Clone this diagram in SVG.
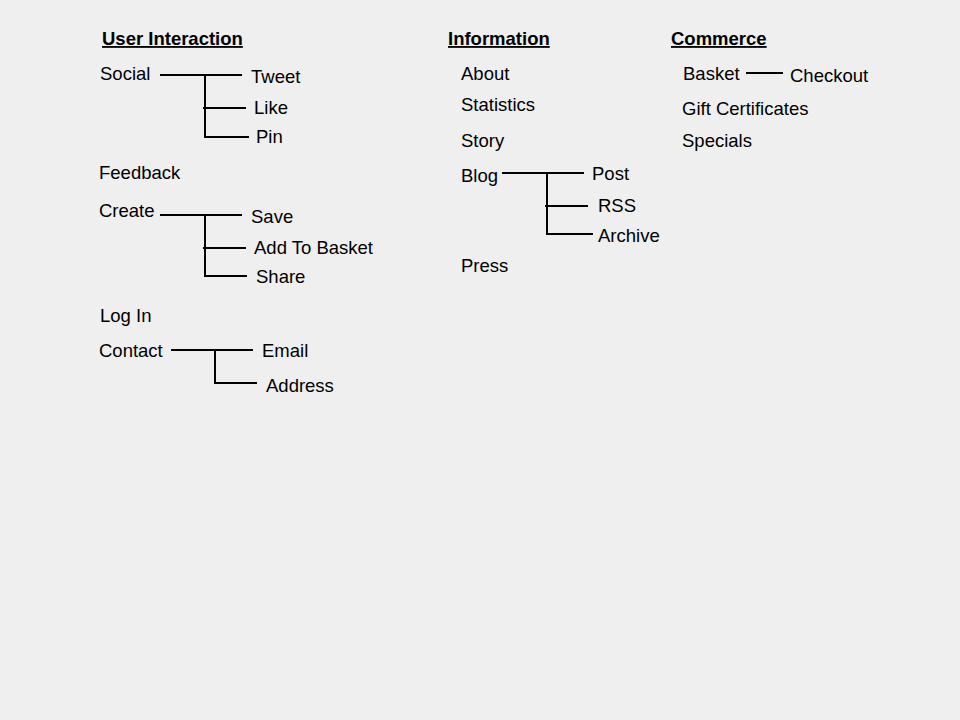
<svg xmlns="http://www.w3.org/2000/svg" width="960" height="720" viewBox="0 0 960 720">
<style>
text{font-family:"Liberation Sans",Arial,sans-serif;font-size:18.5px;fill:#000}
.h{font-weight:bold;text-decoration:underline}
.c line{stroke:#000;stroke-width:2}
</style>
<rect width="960" height="720" fill="#efefef"/>
<g id="headers">
<text class="h" x="102" y="45">User Interaction</text>
<text class="h" x="448" y="45">Information</text>
<text class="h" x="671" y="45">Commerce</text>
</g>
<g id="n-social"><text x="100" y="80">Social</text></g>
<g id="n-tweet"><text x="251" y="83">Tweet</text></g>
<g id="n-like"><text x="254" y="114">Like</text></g>
<g id="n-pin"><text x="256" y="143">Pin</text></g>
<g id="n-feedback"><text x="99" y="179">Feedback</text></g>
<g id="n-create"><text x="99" y="217">Create</text></g>
<g id="n-save"><text x="251" y="223">Save</text></g>
<g id="n-addtobasket"><text x="254" y="254">Add To Basket</text></g>
<g id="n-share"><text x="256" y="283">Share</text></g>
<g id="n-login"><text x="100" y="322">Log In</text></g>
<g id="n-contact"><text x="99" y="357">Contact</text></g>
<g id="n-email"><text x="262" y="357">Email</text></g>
<g id="n-address"><text x="266" y="392">Address</text></g>
<g id="n-about"><text x="461" y="80">About</text></g>
<g id="n-statistics"><text x="461" y="111">Statistics</text></g>
<g id="n-story"><text x="461" y="147">Story</text></g>
<g id="n-blog"><text x="461" y="182">Blog</text></g>
<g id="n-post"><text x="592" y="180">Post</text></g>
<g id="n-rss"><text x="598" y="212">RSS</text></g>
<g id="n-archive"><text x="598" y="242">Archive</text></g>
<g id="n-press"><text x="461" y="272">Press</text></g>
<g id="n-basket"><text x="683" y="80">Basket</text></g>
<g id="n-checkout"><text x="790" y="82">Checkout</text></g>
<g id="n-gift"><text x="682" y="115">Gift Certificates</text></g>
<g id="n-specials"><text x="682" y="147">Specials</text></g>
<g id="connectors" class="c">
<line x1="160" y1="75" x2="242" y2="75"/>
<line x1="205" y1="74" x2="205" y2="137"/>
<line x1="203" y1="108" x2="246" y2="108"/>
<line x1="204" y1="137" x2="249" y2="137"/>
<line x1="160" y1="215" x2="242" y2="215"/>
<line x1="205" y1="214" x2="205" y2="276"/>
<line x1="203" y1="248" x2="246" y2="248"/>
<line x1="204" y1="276" x2="247" y2="276"/>
<line x1="171" y1="350" x2="253" y2="350"/>
<line x1="215" y1="349" x2="215" y2="384"/>
<line x1="214" y1="383" x2="257" y2="383"/>
<line x1="502" y1="173" x2="584" y2="173"/>
<line x1="547" y1="172" x2="547" y2="234"/>
<line x1="545" y1="206" x2="588" y2="206"/>
<line x1="546" y1="234" x2="593" y2="234"/>
<line x1="746" y1="73" x2="783" y2="73"/>
</g>
</svg>
